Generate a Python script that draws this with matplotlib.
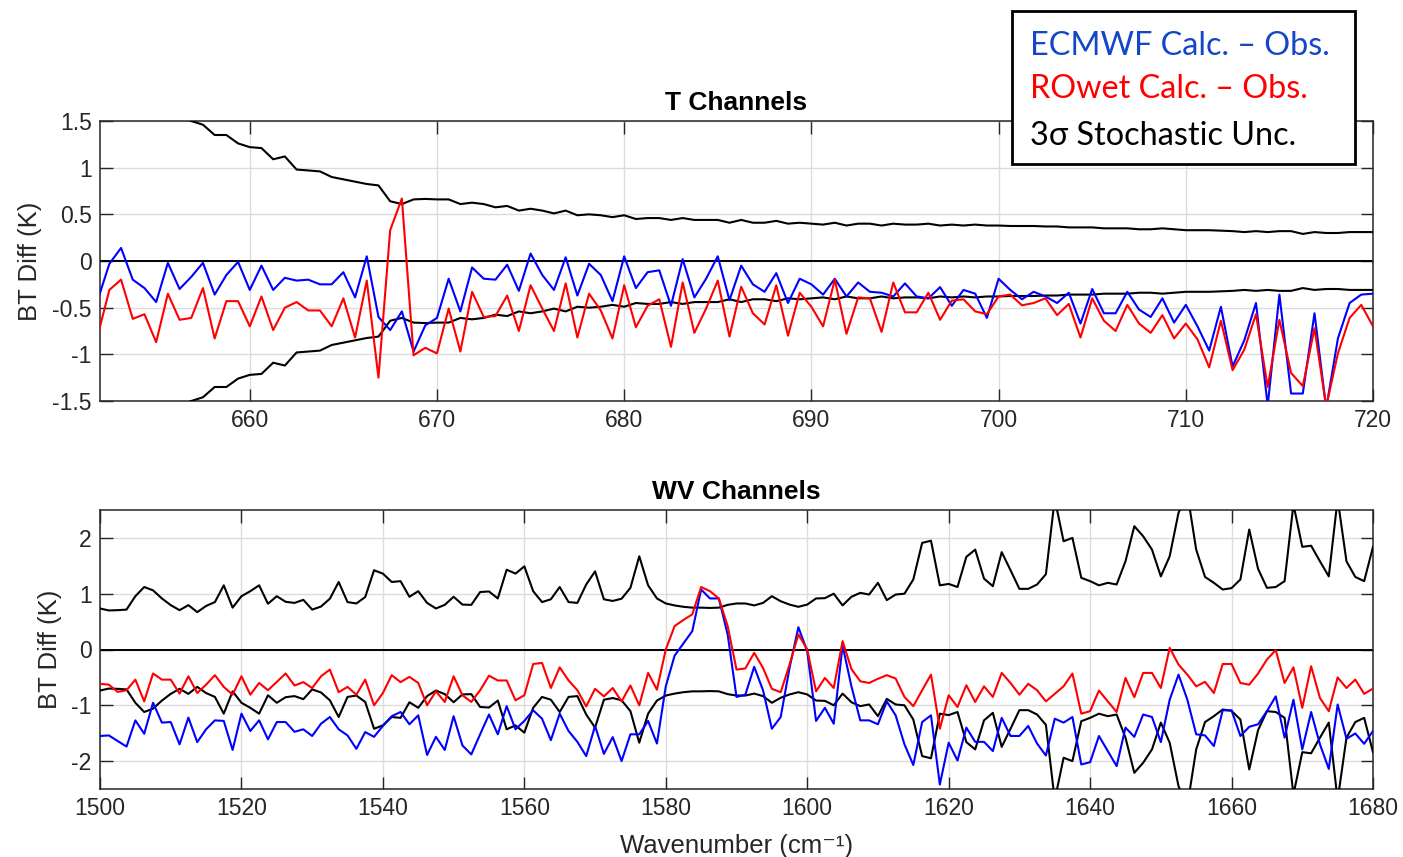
import numpy as np
import matplotlib
matplotlib.use("Agg")
import matplotlib.pyplot as plt
from matplotlib.patches import Rectangle

# ---------------- T channels (650-720 cm^-1, 0.625 cm^-1 grid) ----------------
t_start, t_step = 651.875, 0.625

t_ecmwf = [
    -0.42, -0.03, 0.14, -0.20, -0.29,
    -0.44, -0.02, -0.30, -0.17, -0.02, -0.36, -0.15, -0.01,
    -0.31, -0.05, -0.31, -0.18, -0.21, -0.20, -0.25, -0.25,
    -0.12, -0.39, 0.05, -0.60, -0.74, -0.54, -0.97, -0.69,
    -0.61, -0.19, -0.54, -0.07, -0.19, -0.20, -0.04, -0.32,
    0.08, -0.15, -0.31, 0.04, -0.37, -0.03, -0.15, -0.43,
    0.05, -0.29, -0.12, -0.10, -0.48, 0.02, -0.39, -0.19,
    0.05, -0.42, -0.05, -0.25, -0.33, -0.13, -0.45, -0.19,
    -0.25, -0.36, -0.19, -0.38, -0.23, -0.33, -0.34, -0.38,
    -0.24, -0.38, -0.40, -0.28, -0.48, -0.31, -0.35, -0.61,
    -0.19, -0.31, -0.41, -0.33, -0.38, -0.45, -0.34, -0.67,
    -0.30, -0.56, -0.56, -0.33, -0.52, -0.60, -0.40, -0.66,
    -0.47, -0.70, -0.96, -0.49, -1.13, -0.85, -0.45, -1.55,
    -0.36, -1.42, -1.42, -0.56, -1.58, -0.83, -0.45, -0.36,
    -0.35,
]

t_rowet = [
    -0.80, -0.31, -0.20, -0.62, -0.57,
    -0.87, -0.35, -0.63, -0.61, -0.29, -0.83, -0.43, -0.43,
    -0.70, -0.38, -0.74, -0.50, -0.44, -0.53, -0.53, -0.70,
    -0.40, -0.82, -0.21, -1.25, 0.33, 0.67, -1.01, -0.93,
    -0.99, -0.51, -0.97, -0.33, -0.60, -0.59, -0.37, -0.75,
    -0.26, -0.51, -0.75, -0.24, -0.82, -0.35, -0.53, -0.83,
    -0.26, -0.71, -0.48, -0.41, -0.92, -0.23, -0.77, -0.51,
    -0.21, -0.81, -0.275, -0.56, -0.68, -0.26, -0.80, -0.34,
    -0.49, -0.70, -0.20, -0.78, -0.39, -0.40, -0.76, -0.23,
    -0.55, -0.55, -0.34, -0.63, -0.425, -0.41, -0.54, -0.57,
    -0.38, -0.36, -0.475, -0.45, -0.40, -0.58, -0.46, -0.82,
    -0.40, -0.64, -0.75, -0.47, -0.67, -0.77, -0.58, -0.83,
    -0.67, -0.84, -1.14, -0.64, -1.17, -0.95, -0.57, -1.35,
    -0.63, -1.20, -1.34, -0.72, -1.56, -0.99, -0.61, -0.47,
    -0.70,
]

t_3sigma = [
    1.95, 1.88, 1.82, 1.76, 1.70,
    1.65, 1.60, 1.55, 1.50, 1.46, 1.35, 1.35, 1.26,
    1.22, 1.21, 1.09, 1.12, 0.98, 0.97, 0.96, 0.90,
    0.875, 0.85, 0.825, 0.81, 0.64, 0.61, 0.66, 0.665,
    0.66, 0.66, 0.61, 0.625, 0.61, 0.575, 0.59, 0.54,
    0.56, 0.54, 0.51, 0.54, 0.49, 0.50, 0.49, 0.47,
    0.49, 0.45, 0.46, 0.46, 0.44, 0.46, 0.44, 0.44,
    0.44, 0.41, 0.44, 0.41, 0.41, 0.43, 0.40, 0.41,
    0.40, 0.39, 0.41, 0.38, 0.40, 0.40, 0.38, 0.40,
    0.39, 0.39, 0.40, 0.38, 0.39, 0.38, 0.39, 0.38,
    0.38, 0.375, 0.375, 0.375, 0.37, 0.37, 0.36, 0.36,
    0.36, 0.35, 0.35, 0.35, 0.34, 0.34, 0.35, 0.34,
    0.33, 0.33, 0.33, 0.325, 0.32, 0.31, 0.32, 0.31,
    0.32, 0.32, 0.29, 0.31, 0.30, 0.30, 0.31, 0.31,
    0.31,
]

# ---------------- WV channels (1500-1680 cm^-1, 1.25 cm^-1 grid) ----------------
wv_start, wv_step = 1500.0, 1.25

wv_3sigma = [
    0.735, 0.70, 0.705, 0.715, 0.955, 1.12, 1.06, 0.915, 0.795, 0.705, 0.795, 0.67, 0.78, 0.85, 1.15, 0.75,
    0.955, 1.045, 1.15, 0.82, 0.955, 0.855, 0.835, 0.89, 0.715, 0.77, 0.91, 1.21, 0.85, 0.825, 0.94, 1.42,
    1.36, 1.21, 1.225, 0.945, 1.045, 0.835, 0.735, 0.80, 0.945, 0.805, 0.80, 1.03, 1.04, 0.915, 1.43, 1.36,
    1.49, 1.045, 0.85, 0.90, 1.12, 0.85, 0.835, 1.165, 1.40, 0.90, 0.87, 0.91, 1.105, 1.67, 1.15, 0.915,
    0.825, 0.79, 0.765, 0.75, 0.75, 0.745, 0.75, 0.80, 0.825, 0.825, 0.79, 0.835, 0.955, 0.865, 0.805, 0.765,
    0.805, 0.915, 0.92, 1.00, 0.79, 0.945, 1.015, 0.985, 1.195, 0.885, 0.985, 1.00, 1.255, 1.91, 1.95, 1.15,
    1.175, 1.12, 1.66, 1.79, 1.27, 1.135, 1.745, 1.42, 1.087, 1.087, 1.165, 1.35, 2.70, 1.94, 2.00, 1.285,
    1.225, 1.15, 1.195, 1.165, 1.58, 2.21, 2.03, 1.79, 1.31, 1.67, 2.45, 2.80, 1.79, 1.30, 1.195, 1.075,
    1.10, 1.255, 2.15, 1.445, 1.105, 1.12, 1.225, 2.60, 1.84, 1.86, 1.58, 1.31, 2.70, 1.58, 1.30, 1.225,
    1.84,
]

wv_rowet = [
    -0.615, -0.63, -0.76, -0.73, -0.54, -0.93, -0.43, -0.54, -0.54, -0.79, -0.48, -0.78, -0.63, -0.46, -0.67, -0.81,
    -0.48, -0.81, -0.60, -0.73, -0.58, -0.43, -0.645, -0.585, -0.69, -0.48, -0.36, -0.765, -0.67, -0.81, -0.54, -1.00,
    -0.78, -0.46, -0.585, -0.49, -0.60, -1.00, -0.75, -0.94, -0.48, -0.82, -0.94, -0.73, -0.47, -0.555, -0.555, -0.91,
    -0.82, -0.26, -0.24, -0.69, -0.32, -0.555, -0.73, -1.02, -0.705, -0.84, -0.69, -0.93, -0.645, -1.00, -0.42, -0.72,
    0.00, 0.42, 0.53, 0.63, 1.12, 1.045, 0.915, 0.42, -0.36, -0.34, -0.06, -0.33, -0.705, -0.765, -0.27, 0.27,
    0.00, -0.75, -0.51, -0.69, 0.15, -0.35, -0.57, -0.60, -0.525, -0.46, -0.52, -0.85, -1.015, -0.73, -0.45, -1.42,
    -0.82, -1.03, -0.64, -0.94, -0.66, -0.85, -0.42, -0.60, -0.81, -0.615, -0.73, -0.93, -0.795, -0.66, -0.43, -1.15,
    -1.105, -0.735, -0.93, -1.12, -0.51, -0.855, -0.42, -0.42, -0.69, 0.03, -0.27, -0.45, -0.66, -0.58, -0.78, -0.26,
    -0.26, -0.60, -0.63, -0.43, -0.18, -0.01, -0.60, -0.32, -1.045, -0.30, -0.87, -1.105, -0.50, -0.69, -0.54, -0.795,
    -0.70,
]

wv_ecmwf = [
    -1.55, -1.54, -1.64, -1.74, -1.27, -1.51, -0.955, -1.31, -1.30, -1.70, -1.22, -1.66, -1.43, -1.27, -1.28, -1.80,
    -1.15, -1.46, -1.27, -1.61, -1.30, -1.30, -1.475, -1.43, -1.55, -1.33, -1.21, -1.43, -1.54, -1.78, -1.48, -1.565,
    -1.37, -1.195, -1.12, -1.34, -1.18, -1.89, -1.565, -1.80, -1.195, -1.72, -1.88, -1.52, -1.165, -1.52, -1.015, -1.43,
    -1.28, -1.09, -1.24, -1.625, -1.15, -1.46, -1.655, -1.91, -1.37, -1.87, -1.57, -2.00, -1.52, -1.52, -1.28, -1.685,
    -0.66, -0.11, 0.11, 0.33, 1.075, 0.915, 0.915, 0.27, -0.85, -0.81, -0.31, -0.73, -1.42, -1.21, -0.33, 0.40,
    -0.03, -1.28, -1.045, -1.33, 0.07, -0.66, -1.27, -1.27, -1.34, -0.93, -1.18, -1.70, -2.07, -1.30, -1.18, -2.42,
    -1.67, -1.99, -1.40, -1.655, -1.655, -1.82, -1.225, -1.55, -1.55, -1.37, -1.685, -1.90, -1.24, -1.31, -1.21, -2.06,
    -2.02, -1.55, -1.82, -2.09, -1.40, -1.565, -1.165, -1.21, -1.66, -0.90, -0.45, -0.90, -1.52, -1.54, -1.73, -1.09,
    -1.09, -1.55, -1.385, -1.34, -1.105, -0.84, -1.58, -0.90, -1.79, -1.12, -1.70, -2.14, -0.985, -1.60, -1.505, -1.69,
    -1.46,
]

t_xticks = [660, 670, 680, 690, 700, 710, 720]
t_yticks = [-1.5, -1, -0.5, 0, 0.5, 1, 1.5]
t_yticklabels = ["-1.5", "-1", "-0.5", "0", "0.5", "1", "1.5"]
wv_xticks = [1500, 1520, 1540, 1560, 1580, 1600, 1620, 1640, 1660, 1680]
wv_yticks = [-2, -1, 0, 1, 2]
wv_yticklabels = ["-2", "-1", "0", "1", "2"]

legend_labels = ["ECMWF Calc. \u2013 Obs.", "ROwet Calc. \u2013 Obs.", "3\u03c3 Stochastic Unc."]
legend_colors = ["#1446C8", "#FF0000", "#000000"]

# ---------------- styling ----------------
plt.rcParams["font.family"] = ["Liberation Sans", "DejaVu Sans"]
AX_COLOR = "#262626"
TICK_FS = 16.5
LABEL_FS = 18.5
TITLE_FS = 19

fig = plt.figure(figsize=(14.03, 8.57), dpi=100)
W, H = 1403.0, 857.0


def px_axes(left, top, right, bottom):
    return fig.add_axes([left / W, 1 - bottom / H, (right - left) / W, (bottom - top) / H])


def style(ax, xlim, ylim, xticks, yticks, yticklabels, title):
    ax.set_xlim(*xlim)
    ax.set_ylim(*ylim)
    ax.set_xticks(xticks)
    ax.set_xticklabels([str(v) for v in xticks])
    ax.set_yticks(yticks)
    ax.set_yticklabels(yticklabels)
    ax.grid(True, color="#dcdcdc", linewidth=1.0)
    ax.set_axisbelow(True)
    ax.tick_params(direction="in", length=9, width=1.0, color=AX_COLOR,
                   labelcolor=AX_COLOR, labelsize=TICK_FS,
                   top=True, right=True, pad=6)
    for s in ax.spines.values():
        s.set_color(AX_COLOR)
        s.set_linewidth(1.1)
    ax.set_ylabel("BT Diff (K)", fontsize=LABEL_FS, color=AX_COLOR, labelpad=7)
    ax.set_title(title, fontsize=TITLE_FS, fontweight="bold", color="black", pad=8)
    ax.axhline(0, color="black", linewidth=1.4, zorder=2)


def draw(ax, start, step, ecmwf, rowet, sigma):
    x = start + step * np.arange(len(ecmwf))
    sig = np.asarray(sigma)
    ax.plot(x, sig, color="black", linewidth=1.5, zorder=3)
    ax.plot(x, -sig, color="black", linewidth=1.5, zorder=3)
    ax.plot(x, ecmwf, color="#0000FF", linewidth=1.5, zorder=4)
    ax.plot(x, rowet, color="#FF0000", linewidth=1.5, zorder=5)


ax1 = px_axes(100, 121, 1373, 401)
draw(ax1, t_start, t_step, t_ecmwf, t_rowet, t_3sigma)
style(ax1, (652, 720), (-1.5, 1.5), t_xticks, t_yticks, t_yticklabels, "T Channels")

ax2 = px_axes(100, 510, 1373, 789)
draw(ax2, wv_start, wv_step, wv_ecmwf, wv_rowet, wv_3sigma)
style(ax2, (1500, 1680), (-2.5, 2.5), wv_xticks, wv_yticks, wv_yticklabels, "WV Channels")
ax2.set_xlabel("Wavenumber (cm\u207b\u00b9)", fontsize=LABEL_FS, color=AX_COLOR, labelpad=10)

# legend box drawn in figure pixels
box = Rectangle((1012 / W, 1 - 164 / H), (1355 - 1012) / W, (164 - 11) / H,
                transform=fig.transFigure, facecolor="white", edgecolor="black",
                linewidth=2.0, zorder=10)
fig.patches.append(box)
for label, color, base in zip(legend_labels, legend_colors, [55, 98, 145]):
    fig.text(1030 / W, 1 - base / H, label, color=color, fontsize=23.3,
             family=["Lato", "DejaVu Sans"], va="baseline", ha="left", zorder=11)

fig.savefig("out.png", dpi=100)
